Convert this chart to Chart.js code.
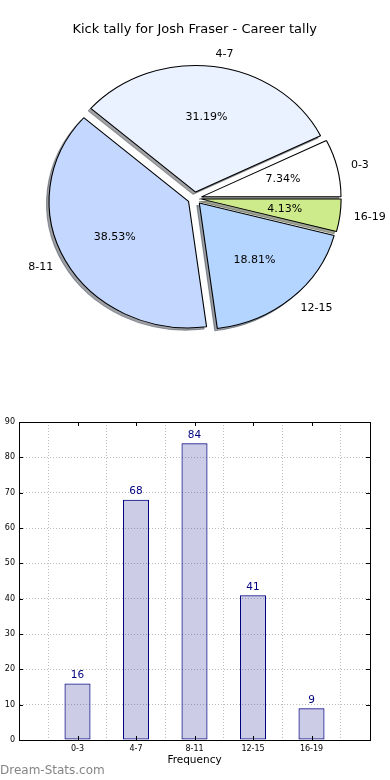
<!DOCTYPE html>
<html><head><meta charset="utf-8">
<script src="https://cdn.jsdelivr.net/npm/chart.js@4"></script>
<style>
html,body{margin:0;padding:0;background:#fff;width:390px;height:780px;overflow:hidden;}
#pie{position:absolute;left:0;top:0;}
#bar{position:absolute;left:0;top:400px;}
#wm{position:absolute;left:0;top:763px;font:12px "DejaVu Sans";color:#858585;line-height:14px;white-space:nowrap;}
</style></head><body>
<canvas id="pie" width="390" height="400"></canvas>
<canvas id="bar" width="390" height="380"></canvas>
<div id="wm">Dream-Stats.com</div>
<script>
// ---- data ----
const titleText = 'Kick tally for Josh Fraser - Career tally';
const categories = ['0-3', '4-7', '8-11', '12-15', '16-19'];
const kicks = [16, 68, 84, 41, 9];
const xAxisTitle = 'Frequency';
const yMin = 0, yMax = 90, yStep = 10;

// ---- styles ----
const sliceColors = ['#ffffff', '#eaf1ff', '#c4d8ff', '#b4d5ff', '#cdeb8b'];
const FONT = '"DejaVu Sans", "Liberation Sans", sans-serif';
const EXPLODE = 0.05, SHADOW = 0.018;
const RADIUS = 126.6, SX = 139.5 / 126.6;

function shadowOf(hex) {
  const n = parseInt(hex.slice(1), 16);
  const r = (n >> 16) & 255, g = (n >> 8) & 255, b = n & 255;
  return 'rgba(' + Math.round(r * 0.3) + ',' + Math.round(g * 0.3) + ',' + Math.round(b * 0.3) + ',0.5)';
}

const pieLabels = categories.slice().reverse();
const pieValues = kicks.slice().reverse();
const pieColors = sliceColors.slice().reverse();
const total = kicks.reduce((a, b) => a + b, 0);

const piePlugin = {
  id: 'piePlugin',
  beforeDatasetsDraw(chart) {
    const ctx = chart.ctx;
    const arcs = chart.getDatasetMeta(0).data;
    if (!arcs.length) return false;
    const cx = arcs[0].x, cy = arcs[0].y, r = arcs[0].outerRadius;
    const d = EXPLODE * r;
    ctx.save();
    ctx.translate(cx, cy); ctx.scale(SX, 1); ctx.translate(-cx, -cy);
    // shadows first (below all wedges)
    arcs.forEach((arc, i) => {
      const m = (arc.startAngle + arc.endAngle) / 2;
      ctx.save();
      ctx.translate(Math.cos(m) * d - SHADOW * r, Math.sin(m) * d + SHADOW * r);
      const saved = arc.options;
      const sc = shadowOf(pieColors[i]);
      arc.options = Object.assign({}, saved, {backgroundColor: sc, borderColor: sc});
      arc.draw(ctx);
      arc.options = saved;
      ctx.restore();
    });
    arcs.forEach(arc => {
      const m = (arc.startAngle + arc.endAngle) / 2;
      ctx.save();
      ctx.translate(Math.cos(m) * d, Math.sin(m) * d);
      arc.draw(ctx);
      ctx.restore();
    });
    ctx.restore();
    return false;
  },
  afterDraw(chart) {
    const ctx = chart.ctx;
    const arcs = chart.getDatasetMeta(0).data;
    ctx.save();
    ctx.fillStyle = '#000';
    ctx.font = '11px ' + FONT;
    ctx.textBaseline = 'middle';
    arcs.forEach((arc, i) => {
      const cx = arc.x, cy = arc.y, r = arc.outerRadius;
      const m = (arc.startAngle + arc.endAngle) / 2;
      const c = Math.cos(m), s = Math.sin(m);
      const d = EXPLODE * r;
      const px = k => cx + (d + k * r) * c * SX;
      const py = k => cy + (d + k * r) * s;
      ctx.textAlign = c > 0 ? 'left' : 'right';
      ctx.fillText(pieLabels[i], px(1.1), py(1.1));
      ctx.textAlign = 'center';
      ctx.fillText((pieValues[i] / total * 100).toFixed(2) + '%', px(0.6), py(0.6));
    });
    ctx.restore();
  }
};

new Chart(document.getElementById('pie'), {
  type: 'pie',
  data: {
    labels: pieLabels,
    datasets: [{
      data: pieValues,
      backgroundColor: pieColors,
      borderColor: '#000',
      borderWidth: 1
    }]
  },
  options: {
    responsive: false, devicePixelRatio: 1, animation: false, events: [],
    rotation: 90,
    radius: RADIUS,
    layout: {padding: {top: 0, left: 0, right: 0.6, bottom: 41}},
    plugins: {
      legend: {display: false},
      tooltip: {enabled: false},
      title: {
        display: true, text: titleText, color: '#000',
        font: {family: FONT, size: 13, weight: 'normal'},
        padding: {top: 22, bottom: 0}
      }
    }
  },
  plugins: [piePlugin]
});

// ---- bar chart ----
const barLabels = [''].concat(categories, ['']);
const barData = [null].concat(kicks, [null]);

const barPlugin = {
  id: 'barPlugin',
  afterDraw(chart) {
    const ctx = chart.ctx;
    const {left, right, top, bottom} = chart.chartArea;
    const xs = chart.scales.x, ys = chart.scales.y;
    ctx.save();
    // value labels
    ctx.fillStyle = '#000080';
    ctx.font = '10.5px ' + FONT;
    ctx.textAlign = 'center';
    ctx.textBaseline = 'middle';
    const meta = chart.getDatasetMeta(0);
    meta.data.forEach((bar, i) => {
      const v = barData[i];
      if (v === null || v === undefined) return;
      ctx.fillText(String(v), bar.x, bar.y - 8);
    });
    // inward tick marks
    ctx.strokeStyle = '#000';
    ctx.lineWidth = 1;
    ctx.beginPath();
    ys.ticks.forEach(t => {
      const y = Math.round(ys.getPixelForValue(t.value)) + 0.5;
      ctx.moveTo(left, y); ctx.lineTo(left + 4, y);
      ctx.moveTo(right - 4, y); ctx.lineTo(right, y);
    });
    categories.forEach((c, i) => {
      const x = Math.round(xs.getPixelForValue(i + 1)) + 0.5;
      ctx.moveTo(x, bottom); ctx.lineTo(x, bottom - 4);
      ctx.moveTo(x, top); ctx.lineTo(x, top + 4);
    });
    ctx.stroke();
    // frame
    ctx.strokeRect(Math.round(left) + 0.5, Math.round(top) + 0.5, Math.round(right) - Math.round(left), Math.round(bottom) - Math.round(top));
    ctx.restore();
  }
};

const gridOpts = {color: 'rgba(0,0,0,0.26)', lineWidth: 1, drawTicks: false};
const borderOpts = {display: true, color: '#000', width: 1, dash: [1, 2]};

new Chart(document.getElementById('bar'), {
  type: 'bar',
  data: {
    labels: barLabels,
    datasets: [{
      data: barData,
      backgroundColor: 'rgba(0,0,128,0.2)',
      borderColor: '#000080',
      borderWidth: 1,
      borderSkipped: false,
      categoryPercentage: 1,
      barPercentage: 0.445
    }]
  },
  options: {
    responsive: false, devicePixelRatio: 1, animation: false, events: [],
    layout: {padding: {top: 22, right: 20, left: 0, bottom: 0}},
    plugins: {legend: {display: false}, tooltip: {enabled: false}},
    scales: {
      x: {
        offset: false,
        grid: gridOpts,
        border: borderOpts,
        ticks: {color: '#000', font: {family: FONT, size: 8}, padding: 4.5, maxRotation: 0, autoSkip: false},
        title: {display: true, text: xAxisTitle, color: '#000', font: {family: FONT, size: 10.5}, padding: {top: 0, bottom: 13}},
        afterFit(s) { s.height = 40; }
      },
      y: {
        min: yMin, max: yMax,
        grid: gridOpts,
        border: borderOpts,
        ticks: {stepSize: yStep, color: '#000', font: {family: FONT, size: 8}, padding: 4},
        afterFit(s) { s.width = 19; }
      }
    }
  },
  plugins: [barPlugin]
});
</script>
</body></html>
